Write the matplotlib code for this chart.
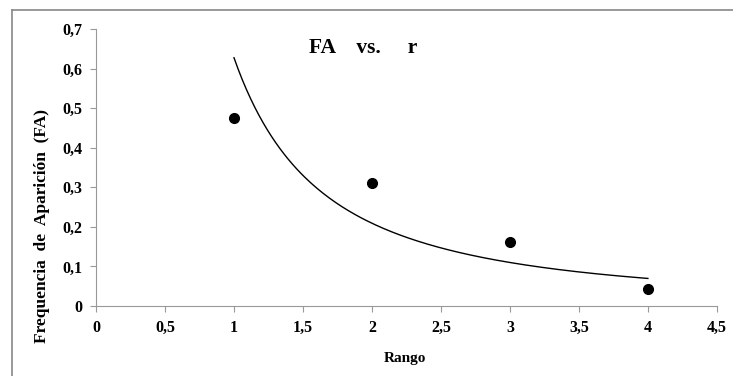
import numpy as np
import matplotlib.pyplot as plt
from matplotlib.lines import Line2D

# datos: rango vs frecuencia de aparicion
rango = [1, 2, 3, 4]
fa = [0.475, 0.31, 0.163, 0.042]

xticks = [0, 0.5, 1, 1.5, 2, 2.5, 3, 3.5, 4, 4.5]
yticks = [0, 0.1, 0.2, 0.3, 0.4, 0.5, 0.6, 0.7]

def coma(v):
    return ("%g" % v).replace(".", ",")

plt.rcParams["font.family"] = ["Liberation Serif", "DejaVu Serif"]
plt.rcParams["font.weight"] = "bold"

fig = plt.figure(figsize=(7.33, 3.76), dpi=100)
ax = fig.add_axes([0.131, 0.186, 0.847, 0.737])

# linea de tendencia potencial (ajuste en escala log)
b, ln_a = np.polyfit(np.log(rango), np.log(fa), 1)
xs = np.linspace(rango[0], rango[-1], 200)
ax.plot(xs, np.exp(ln_a) * xs ** b, color="black", linewidth=1)

ax.plot(rango, fa, "o", color="black", markersize=7)

ax.set_xlim(0, 4.5)
ax.set_ylim(0, 0.7)
ax.set_xticks(xticks)
ax.set_xticklabels([coma(v) for v in xticks])
ax.set_yticks(yticks)
ax.set_yticklabels([coma(v) for v in yticks])
ax.tick_params(direction="out", length=4, color="#999999", labelsize=11.5, pad=6)
for s in ["top", "right"]:
    ax.spines[s].set_visible(False)
for s in ["left", "bottom"]:
    ax.spines[s].set_color("#999999")

ax.set_xlabel("Rango", fontsize=11, fontweight="bold")
ax.xaxis.set_label_coords(0.497, -0.165)
ax.set_ylabel("Frequencia  de  Aparición  (FA)", fontsize=12.5, fontweight="bold")
ax.yaxis.set_label_coords(-0.074, 0.29)
ax.text(0.43, 0.93, "FA    vs.     r", transform=ax.transAxes, fontsize=15.5, fontweight="bold",
        ha="center", va="center")

# marco del grafico
fig.add_artist(Line2D([12 / 733, 1], [1 - 10 / 376, 1 - 10 / 376], color="#888888", linewidth=1.2))
fig.add_artist(Line2D([12 / 733, 12 / 733], [0, 1 - 10 / 376], color="#888888", linewidth=1.2))

fig.savefig("out.png", dpi=100)
